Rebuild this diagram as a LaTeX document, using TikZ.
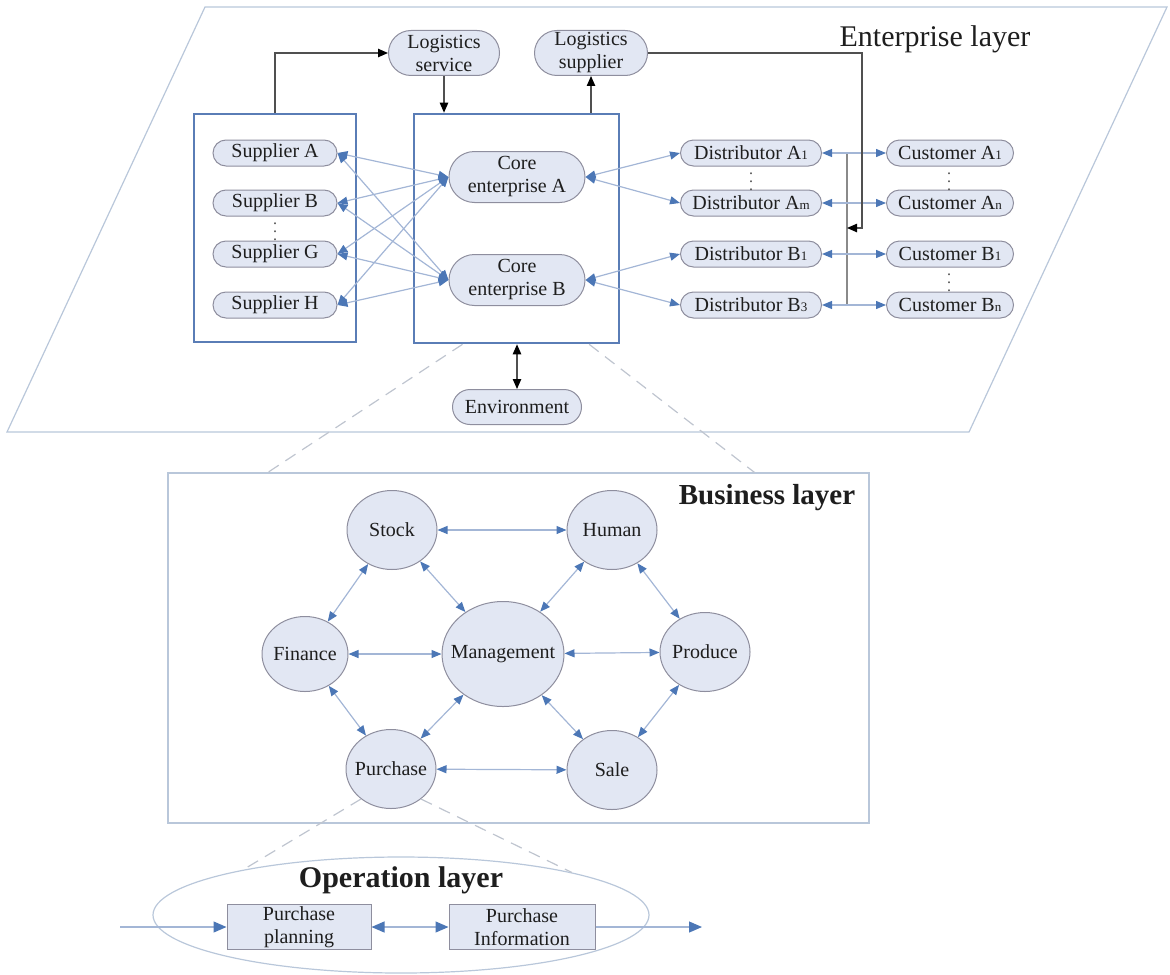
\documentclass[tikz,border=0pt]{standalone}
\usepackage{fontspec}
\setmainfont{Liberation Serif}
\usetikzlibrary{arrows.meta,shapes.geometric,shapes.misc,calc}

\definecolor{nodefill}{HTML}{E2E7F3}
\definecolor{nodeline}{HTML}{8E8E9E}
\definecolor{frameblue}{HTML}{5A7DB6}
\definecolor{linkline}{HTML}{A3B6D6}
\definecolor{tipblue}{HTML}{4C77B6}
\definecolor{planeline}{HTML}{B9C7DA}
\definecolor{dashline}{HTML}{BFC5CF}
\definecolor{txt}{HTML}{1E1E1E}
\definecolor{darkline}{HTML}{505050}
\definecolor{busline}{HTML}{8A8A8A}

\newcommand\lowidx[1]{{\fontsize{6.5}{7}\selectfont #1}}

\tikzset{
  bt/.tip={Triangle[length=5pt,width=4pt,color=tipblue]},
  bigbt/.tip={Triangle[length=6.5pt,width=5.5pt,color=tipblue]},
  kt/.tip={Triangle[length=5pt,width=4.2pt,color=black]},
  pill/.style={rounded rectangle, draw=nodeline, fill=nodefill, line width=0.5pt,
    inner sep=1pt, align=center, minimum height=13pt},
  container/.style={rectangle, draw=frameblue, line width=1.3pt, inner sep=0pt},
  bub/.style={ellipse, draw=nodeline, fill=nodefill, line width=0.5pt,
    inner xsep=-14pt, inner ysep=0pt,
    minimum width=45pt, minimum height=39.5pt},
  opbox/.style={rectangle, draw=nodeline, fill=nodefill, line width=0.5pt, inner sep=0pt,
    align=center, minimum height=22.5pt},
  link/.style={draw=linkline, line width=0.6pt, bt-bt},
  blk/.style={draw=darkline, line width=0.6pt, -kt},
  zoomline/.style={draw=dashline, line width=0.6pt, dash pattern=on 6pt off 4pt},
  plane/.style={draw=planeline, line width=0.6pt},
  dotsnode/.style={inner sep=0pt, text=darkline, font=\fontsize{8}{8}\selectfont},
}

\begin{document}
\begin{tikzpicture}[x=0.5pt,y=-0.5pt, font=\fontsize{10}{11.5}\selectfont, text=txt]
\useasboundingbox (0,0) rectangle (1170,974);

% ---------------- enterprise layer ----------------
\draw[plane] (205,7) -- (1167,7) -- (969,432) -- (7,432) -- cycle;
\node[font=\fontsize{15}{18}\selectfont] (entlabel) at (935,39) {Enterprise layer};

\node[pill, minimum width=57.5pt, minimum height=22.5pt] (lsv) at (444,53) {Logistics\\service};
\node[pill, minimum width=58.5pt, minimum height=22.5pt] (lsp) at (591,53) {Logistics\\supplier};

\node[container, minimum width=81pt, minimum height=114pt] (supbox) at (275,228) {};
\node[container, minimum width=102.5pt, minimum height=114.5pt] (corebox) at (516.5,228.5) {};

\node[pill, minimum width=64pt] (supA) at (275,153) {Supplier A};
\node[pill, minimum width=64pt] (supB) at (275,203) {Supplier B};
\node[pill, minimum width=64pt] (supG) at (275,254) {Supplier G};
\node[pill, minimum width=64pt] (supH) at (275,305) {Supplier H};
\node[dotsnode] (supdots) at (275,226) {$\vdots$};

\node[pill, minimum width=70pt, minimum height=25.5pt] (ceA) at (517,177) {Core\\enterprise A};
\node[pill, minimum width=70pt, minimum height=25.5pt] (ceB) at (517,280) {Core\\enterprise B};

\node[pill, minimum width=72.5pt] (dA1) at (751,153) {Distributor A\lowidx{1}};
\node[pill, minimum width=72.5pt] (dAm) at (751,203) {Distributor A\lowidx{m}};
\node[pill, minimum width=72.5pt] (dB1) at (751,254) {Distributor B\lowidx{1}};
\node[pill, minimum width=72.5pt] (dB3) at (751,305) {Distributor B\lowidx{3}};
\node[dotsnode] (distdots) at (751,176) {$\vdots$};

\node[pill, minimum width=65.5pt] (cA1) at (950,153) {Customer A\lowidx{1}};
\node[pill, minimum width=65.5pt] (cAn) at (950,203) {Customer A\lowidx{n}};
\node[pill, minimum width=65.5pt] (cB1) at (950,254) {Customer B\lowidx{1}};
\node[pill, minimum width=65.5pt] (cBn) at (950,305) {Customer B\lowidx{n}};
\node[dotsnode] (custdotsA) at (949,176) {$\vdots$};
\node[dotsnode] (custdotsB) at (949,277) {$\vdots$};

\node[pill, minimum width=66.5pt, minimum height=17.5pt] (env) at (517,407) {Environment};

% supplier <-> core enterprise links
\foreach \s in {supA,supB,supG,supH}{
  \foreach \c in {ceA,ceB}{
    \draw[link] (\s.east) -- (\c.west);
  }
}
% core enterprise <-> distributors
\draw[link] (ceA.east) -- (dA1.west);
\draw[link] (ceA.east) -- (dAm.west);
\draw[link] (ceB.east) -- (dB1.west);
\draw[link] (ceB.east) -- (dB3.west);

% distribution bus and distributor <-> customer links
\coordinate (busT) at (847,153);
\coordinate (busB) at (847,305);
\coordinate (busIn) at (847,228);
\coordinate (drop) at (862,228);
\draw[draw=busline, line width=0.6pt] (busT) -- (busB);
\draw[link] (dA1.east) -- (cA1.west);
\draw[link] (dAm.east) -- (cAn.west);
\draw[link] (dB1.east) -- (cB1.west);
\draw[link] (dB3.east) -- (cBn.west);

% logistics flows
\draw[blk] (supbox.north) |- (lsv.west);
\draw[blk] (lsv.south) -- (lsv.south |- corebox.north);
\draw[blk] (lsp.south |- corebox.north) -- (lsp.south);
\draw[blk] (lsp.east) -| (drop) -- (busIn);
\draw[blk, kt-kt] (env.north |- corebox.south) -- (env.north);

% ---------------- business layer ----------------
\node[rectangle, draw=planeline, line width=0.6pt, minimum width=350.5pt, minimum height=175pt]
  (biz) at (518.5,648) {};
\node[font=\fontsize{14.5}{17}\selectfont\bfseries] (bizlabel) at (767,498) {Business layer};

\draw[zoomline] ($(corebox.south west)!0.24!(corebox.south east)$) -- ($(biz.north west)!0.143!(biz.north east)$);
\draw[zoomline] ($(corebox.south west)!0.85!(corebox.south east)$) -- ($(biz.north west)!0.836!(biz.north east)$);

\node[bub] (stock) at (392,530) {Stock};
\node[bub] (human) at (612,530) {Human};
\node[bub, minimum width=43pt, minimum height=37.5pt] (finance) at (305,654) {Finance};
\node[bub, minimum width=61pt, minimum height=52.5pt] (mgmt) at (503,654) {Management};
\node[bub] (produce) at (705,652) {Produce};
\node[bub] (purchase) at (391,769) {Purchase};
\node[bub] (sale) at (612,770) {Sale};

\draw[link] (stock) -- (human);
\draw[link] (stock) -- (finance);
\draw[link] (stock) -- (mgmt);
\draw[link] (human) -- (mgmt);
\draw[link] (human) -- (produce);
\draw[link] (finance) -- (mgmt);
\draw[link] (mgmt) -- (produce);
\draw[link] (finance) -- (purchase);
\draw[link] (purchase) -- (mgmt);
\draw[link] (mgmt) -- (sale);
\draw[link] (produce) -- (sale);
\draw[link] (purchase) -- (sale);

% ---------------- operation layer ----------------
\node[ellipse, draw=planeline, line width=0.6pt, minimum width=248pt, minimum height=58pt]
  (opl) at (401,915) {};
\node[font=\fontsize{15}{18}\selectfont\bfseries] (oplabel) at (401,880) {Operation layer};

\draw[zoomline] (purchase.225) -- (opl.164);
\draw[zoomline] (purchase.-45) -- (opl.14);

\node[opbox, minimum width=72pt] (pplan) at (299,927) {Purchase\\planning};
\node[opbox, minimum width=73pt] (pinfo) at (522,927) {Purchase\\Information};
\coordinate (opin) at (120,927);
\coordinate (opout) at (702,927);
\draw[link, -bigbt] (opin) -- (pplan);
\draw[link, bigbt-bigbt] (pplan) -- (pinfo);
\draw[link, -bigbt] (pinfo) -- (opout);

\end{tikzpicture}
\end{document}
